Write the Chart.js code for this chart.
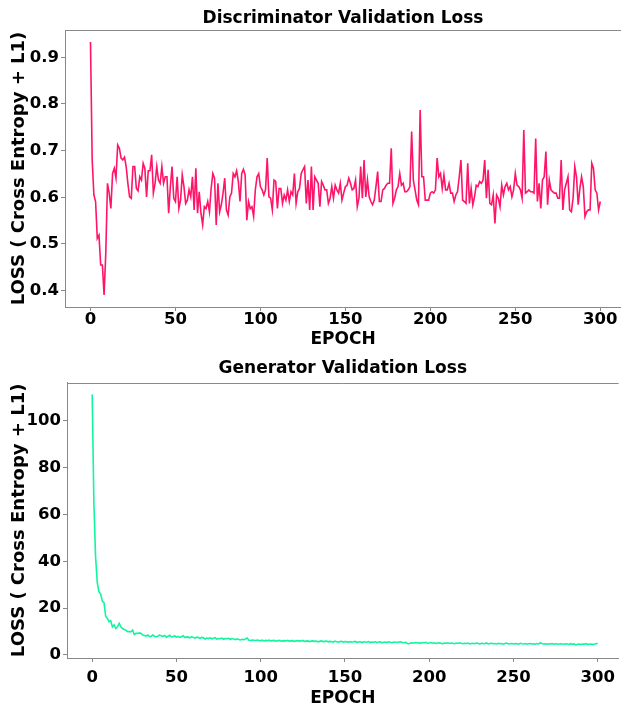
<!DOCTYPE html>
<html><head><meta charset="utf-8">
<script src="https://cdn.jsdelivr.net/npm/chart.js@4"></script>
<style>
html,body{margin:0;padding:0;background:#fff;overflow:hidden;width:621px;height:706px}
canvas{position:absolute;left:0}
#c1{top:0}
#c2{top:350px}
</style></head>
<body>
<canvas id="c1" width="621" height="350" style="width:621px;height:350px"></canvas>
<canvas id="c2" width="621" height="356" style="width:621px;height:356px"></canvas>
<script>
const discLoss = [
0.933,0.68,0.605,0.591,0.512,0.519,0.455,0.455,0.391,0.48,
0.63,0.609,0.576,0.651,0.662,0.641,0.712,0.705,0.684,0.68,
0.686,0.666,0.63,0.601,0.598,0.666,0.666,0.619,0.614,0.644,
0.637,0.673,0.662,0.601,0.657,0.657,0.691,0.609,0.63,0.666,
0.637,0.63,0.666,0.63,0.644,0.644,0.566,0.623,0.666,0.598,
0.591,0.644,0.576,0.594,0.648,0.623,0.587,0.594,0.616,0.601,
0.644,0.573,0.662,0.566,0.612,0.566,0.541,0.58,0.576,0.591,
0.569,0.619,0.651,0.641,0.541,0.63,0.569,0.584,0.609,0.641,
0.573,0.562,0.601,0.609,0.651,0.644,0.657,0.634,0.591,0.651,
0.66,0.648,0.551,0.591,0.576,0.58,0.559,0.616,0.644,0.651,
0.623,
0.616,0.605,0.616,0.684,0.601,0.598,0.573,0.637,0.634,0.576,
0.619,0.619,0.587,0.605,0.594,0.616,0.591,0.612,0.605,0.651,
0.587,0.612,0.619,0.651,0.659,0.666,0.587,0.637,0.573,0.666,
0.573,0.644,0.637,0.63,0.58,0.634,0.626,0.616,0.616,0.587,
0.598,0.623,0.598,0.626,0.616,0.609,0.63,0.594,0.609,0.623,
0.626,0.641,0.63,0.616,0.619,0.637,0.58,0.598,0.666,0.598,
0.68,0.601,0.637,0.601,0.591,0.584,0.594,0.623,0.655,0.591,
0.591,0.616,0.619,0.626,0.63,0.63,0.705,0.587,0.598,0.616,
0.623,0.651,0.626,0.63,0.612,0.612,0.616,0.623,0.741,0.637,
0.616,0.594,0.584,0.787,
0.644,0.644,0.594,0.594,0.594,0.609,0.612,0.609,0.616,0.684,
0.644,0.651,0.619,0.648,0.616,0.616,0.63,0.609,0.609,0.591,
0.605,0.612,0.644,0.68,0.594,0.591,0.587,0.673,0.587,0.619,
0.584,0.601,0.626,0.623,0.634,0.63,0.637,0.68,0.598,0.659,
0.587,0.584,0.605,0.544,0.605,0.598,0.58,0.626,0.605,0.623,
0.63,0.616,0.623,0.601,0.616,0.651,0.626,0.623,0.616,0.598,
0.744,0.609,0.612,0.616,0.612,0.612,0.609,0.726,0.591,0.63,
0.576,0.637,0.644,0.698,0.584,0.637,0.616,0.612,0.609,0.609,
0.598,0.598,0.68,0.573,0.616,0.63,0.644,0.573,0.569,0.598,
0.666,0.644,0.584,0.619,0.644,0.623,0.559,0.569,0.573,0.573,
0.673,0.662,0.616,0.609,0.573,0.591
];
const genLoss = [
111.2,65,42,31,27,26,23,22.3,16.5,15.6,
14.2,14.6,12.0,12.8,11.3,12.0,13.5,12.0,11.3,10.9,
10.6,9.9,10.0,9.9,10.6,8.7,9.2,9.2,9.4,9.2,
8.5,8.3,8.0,8.5,7.8,8.0,8.5,8.0,7.8,8.0,
8.5,8.2,7.9,8.3,7.6,8.0,8.4,7.7,7.9,8.1,
7.6,7.9,7.5,7.8,8.2,7.4,7.7,7.6,7.3,7.8,
7.5,7.2,7.6,7.4,7.1,7.5,7.3,6.8,7.2,7.0,
7.3,6.9,7.1,7.4,6.8,7.0,6.9,7.2,6.7,7.0,
6.9,7.1,6.6,7.0,6.8,6.5,6.9,6.6,6.4,6.7,
6.5,6.8,7.2,6.3,6.2,6.4,6.3,6.2,6.4,6.2,
6.1,6.3,6.0,6.2,6.1,6.3,6.0,6.1,6.2,5.9,
6.1,6.2,6.0,5.9,6.1,6.0,6.2,5.9,6.0,6.1,
5.8,6.0,6.1,5.9,6.0,6.2,5.8,5.9,6.0,5.7,
5.9,6.0,5.8,5.9,5.6,5.8,6.0,5.7,5.8,5.9,
5.6,5.8,5.7,5.5,5.9,5.6,5.5,5.7,5.8,5.5,
5.7,5.6,5.4,5.7,5.5,5.6,5.8,5.4,5.5,5.6,
5.3,5.6,5.5,5.4,5.7,5.3,5.5,5.4,5.6,5.3,
5.5,5.6,5.2,5.4,5.5,5.3,5.6,5.4,5.2,5.5,
5.4,5.3,5.5,5.6,5.3,5.2,5.4,4.9,4.8,5.1,
5.2,5.0,5.3,5.1,5.2,5.0,5.3,5.1,5.4,5.0,
5.1,5.3,5.0,5.2,4.9,5.1,5.2,5.0,4.8,5.1,
5.0,5.2,4.9,5.1,5.0,4.8,5.1,4.9,5.2,5.0,
4.8,5.0,4.9,5.1,4.7,4.9,5.0,4.8,5.1,4.9,
4.7,5.0,4.9,4.8,5.1,4.7,4.9,5.0,4.8,4.9,
4.7,5.0,4.8,4.9,4.6,4.9,5.1,4.7,4.8,4.9,
4.7,4.9,4.8,4.6,5.0,4.8,4.7,4.9,4.6,4.8,
4.9,4.7,4.8,4.6,4.9,4.7,5.2,4.8,4.7,4.8,
4.6,4.8,4.7,4.9,4.6,4.8,4.7,4.6,4.8,4.7,
4.6,4.8,4.7,4.5,4.8,4.6,4.7,4.3,4.6,4.7,
4.5,4.7,4.6,4.8,4.5,4.6,4.7,4.5,4.6,4.8,
5.0
];
const xTicks = [0,50,100,150,200,250,300];
const discYTicks = [0.4,0.5,0.6,0.7,0.8,0.9];
const genYTicks = [0,20,40,60,80,100];

Chart.defaults.font.family = "'DejaVu Sans'";
Chart.defaults.color = '#000';

const SPINE = '#888888';

const framePlugin = {
  id: 'frame',
  afterDraw(chart) {
    const {ctx, chartArea} = chart;
    ctx.save();
    ctx.strokeStyle = SPINE;
    ctx.lineWidth = 1;
    const y = Math.round(chartArea.top) + 0.5;
    ctx.beginPath();
    ctx.moveTo(chartArea.left, y);
    ctx.lineTo(chartArea.right, y);
    ctx.stroke();
    ctx.restore();
  }
};

function makeChart(id, o) {
  const pts = o.values.map((v, i) => ({x: i, y: v}));
  return new Chart(document.getElementById(id), {
    type: 'line',
    data: { datasets: [{ data: pts, borderColor: o.color, borderWidth: 1.6, pointRadius: 0, tension: 0, fill: false }] },
    options: {
      responsive: false, animation: false, devicePixelRatio: 1,
      layout: { padding: { left: 0, right: 0, top: 0, bottom: 0 } },
      plugins: {
        legend: { display: false }, tooltip: { enabled: false },
        title: { display: true, fullSize: false, text: o.title, color: '#000',
          font: { size: 17, weight: 'bold', lineHeight: 1.2 },
          padding: { top: 8, bottom: o.titleBottom } }
      },
      scales: {
        x: {
          type: 'linear', min: o.xMin, max: o.xMax,
          afterBuildTicks: s => { s.ticks = xTicks.map(v => ({value: v})); },
          afterFit: s => { s.height = o.xHeight; },
          ticks: { font: { size: 16.5, weight: 'bold' }, color: '#000', padding: o.xPad, maxRotation: 0, autoSkip: false },
          grid: { drawOnChartArea: false, drawTicks: true, tickLength: 4, color: SPINE },
          border: { display: true, color: SPINE, width: 1 },
          title: { display: true, text: 'EPOCH', color: '#000', font: { size: 17, weight: 'bold', lineHeight: 1.2 }, padding: { top: 0, bottom: o.xTitleBottom } }
        },
        y: {
          type: 'linear', min: o.yMin, max: o.yMax,
          afterBuildTicks: s => { s.ticks = o.yTicks.map(v => ({value: v})); },
          afterFit: s => { s.width = o.yWidth; },
          ticks: { font: { size: 16.5, weight: 'bold' }, color: '#000', padding: 2, callback: o.yFmt, autoSkip: false },
          grid: { drawOnChartArea: false, drawTicks: true, tickLength: 4, color: SPINE },
          border: { display: true, color: SPINE, width: 1 },
          title: { display: true, text: 'LOSS ( Cross Entropy + L1)', color: '#000', font: { size: 18, weight: 'bold', lineHeight: 1.2 }, padding: { top: 8.5, bottom: 0 } }
        }
      }
    },
    plugins: [framePlugin]
  });
}

makeChart('c1', {
  title: 'Discriminator Validation Loss', values: discLoss, color: '#ff1468',
  yMin: 0.365, yMax: 0.9585, yTicks: discYTicks, yFmt: v => Number(v).toFixed(1),
  yWidth: 65, xHeight: 43, xMin: -15, xMax: 312.2, xPad: -1, xTitleBottom: 0, titleBottom: 1.6
});
makeChart('c2', {
  title: 'Generator Validation Loss', values: genLoss, color: '#10f5a0',
  yMin: -1.3, yMax: 116.2, yTicks: genYTicks, yFmt: v => String(v),
  yWidth: 67, xHeight: 48, xMin: -14.95, xMax: 312.4, xPad: 6, xTitleBottom: -3, titleBottom: 4.3
});
</script>
</body></html>
